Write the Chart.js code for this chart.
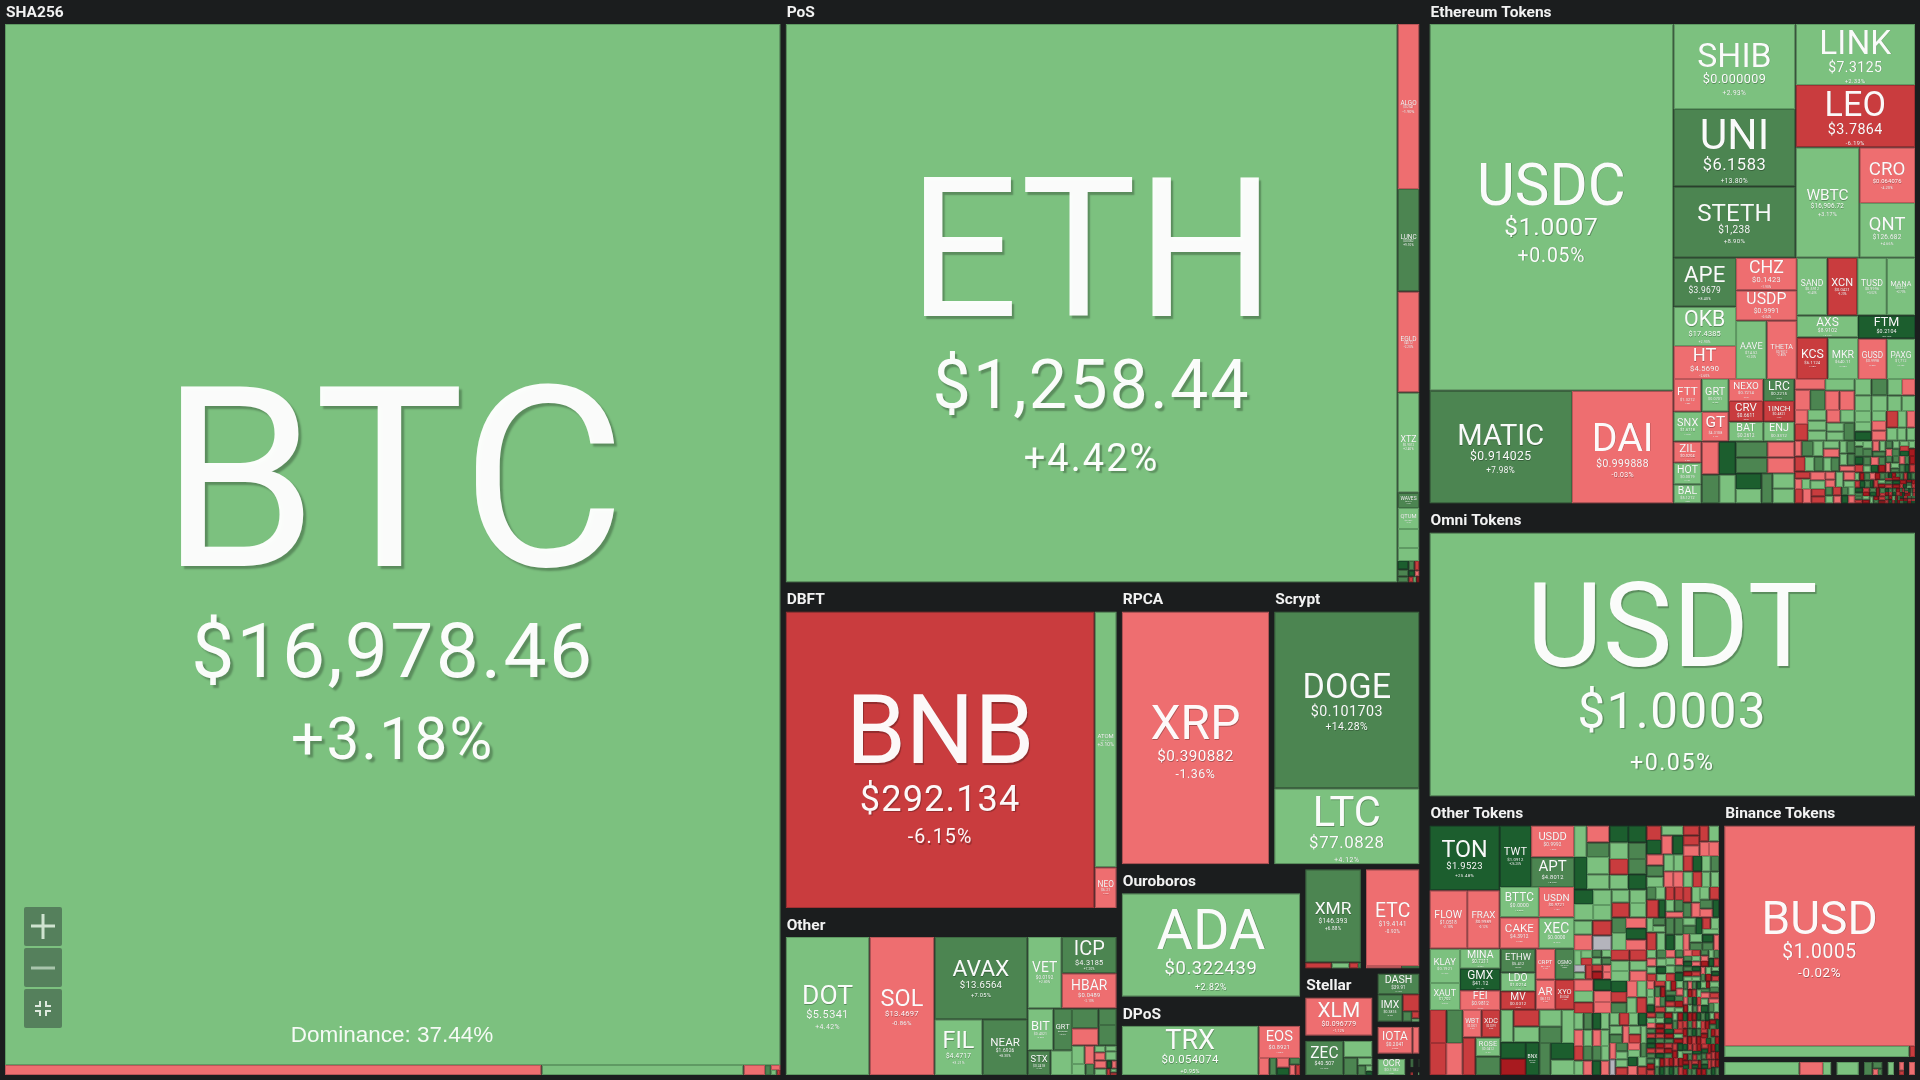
<!DOCTYPE html>
<html>
<head>
<meta charset="utf-8">
<title>Crypto market map</title>
<script src="https://cdn.jsdelivr.net/npm/chart.js@4/dist/chart.umd.min.js"></script>
<style>
  html, body { margin: 0; padding: 0; background: #1b1d1e; overflow: hidden; }
  #wrap { position: absolute; left: 0; top: 0; width: 1920px; height: 1080px; }
  .zb { position: absolute; left: 24px; width: 38px; height: 39px; background: #55805c; border-radius: 2px; }
  .zb svg { display: block; }
</style>
</head>
<body>
<div id="wrap"><canvas id="Chart"></canvas>
  <div class="zb" style="top:907px"><svg width="38" height="39"><path d="M19 7V32M7 19H31" stroke="#cfe3d0" stroke-width="3"/></svg></div>
  <div class="zb" style="top:948px"><svg width="38" height="39"><path d="M7 20H31" stroke="#a9c5ac" stroke-width="3"/></svg></div>
  <div class="zb" style="top:989px"><svg width="38" height="39"><path d="M16 12V17H11M22 12V17H27M11 22H16V27M27 22H22V27" fill="none" stroke="#dfeadf" stroke-width="2"/></svg></div>
</div>
<script>
// values are market caps, changes are 24h percent
const sha256Names = ['BTC'];
const sha256Prices = ['$16,978.46'];
const sha256Values = [834.4, 5.5, 2.07, 0.22, 0.06, 0.05, 0.03, 0.02];
const sha256Changes = [3.18, -1.4, 2.2, -1.7, 8, -2, 3, -8];

const posNames = ['ETH', 'ALGO', 'LUNC', 'EGLD', 'XTZ', 'WAVES', 'QTUM'];
const posPrices = ['$1,258.44', '$0.2541', '$0.0002', '$40.12', '$0.9012', '$2.611', '$2.284'];
const posValues = [362, 3.83, 2.38, 2.34, 2.33, 0.35, 0.49, 0.44, 0.3, 0.1, 0.08, 0.07, 0.06, 0.05, 0.04, 0.03, 0.03, 0.02, 0.02];
const posChanges = [4.42, -1.9, 9.1, -2.2, 2.4, 7.6, 2.1, 1.8, 2, 25, 8, 8, 8, -8, 25, -2, -8, 2, -25];

const dbftNames = ['BNB', 'ATOM', 'NEO'];
const dbftPrices = ['$292.134', '$14.41', '$6.21'];
const dbftValues = [102.0, 6.3, 1.0];
const dbftChanges = [-6.15, 3.1, -2.4];

const otherNames = ['DOT', 'SOL', 'AVAX', 'FIL', 'NEAR', 'VET', 'ICP', 'HBAR', 'BIT', 'GRT', 'STX'];
const otherPrices = ['$5.5341', '$13.4697', '$13.6564', '$4.4717', '$1.6926', '$0.0192', '$4.3185', '$0.0489', '$0.4021', '$0.0702', '$0.2418'];
const otherValues = [14.2, 11.0, 9.4, 3.3, 3.08, 3.0, 2.45, 2.38, 1.32, 0.95, 0.7, 0.65, 0.64, 0.56, 0.37, 0.46, 0.29, 0.22, 0.18, 0.12, 0.09, 0.11, 0.08, 0.13, 0.12, 0.1, 0.05, 0.05, 0.03, 0.03, 0.02];
const otherChanges = [4.42, -0.86, 7.05, 3.21, 8.3, 2.8, 7.2, -2.1, 2.6, 8.1, 7.7, 2, 8, -2, 8, 8, 2, -2, 2, 8, 2, -2, 2, 2, -2, 2, 25, -2, -8, 2, -8];

const rpcaNames = ['XRP'];
const rpcaPrices = ['$0.390882'];
const rpcaValues = [42.9];
const rpcaChanges = [-1.36];

const scryptNames = ['DOGE', 'LTC'];
const scryptPrices = ['$0.101703', '$77.0828'];
const scryptValues = [29.6, 12.7];
const scryptChanges = [14.28, 4.12];

const ouroNames = ['ADA'];
const ouroPrices = ['$0.322439'];
const ouroValues = [24.3];
const ouroChanges = [2.82];

const dposNames = ['TRX', 'EOS'];
const dposPrices = ['$0.054074', '$0.8921'];
const dposValues = [11.0, 2.2, 0.3, 0.2, 0.2, 0.15, 0.12, 0.1, 0.08];
const dposChanges = [0.95, -1.8, -2, 8, -2, 25, 8, -2, -8];

const xmrNames = ['XMR'];
const xmrPrices = ['$146.393'];
const xmrValues = [5.95, 0.18, 0.12, 0.06, 0.02];
const xmrChanges = [6.88, -8, 2, -8, 8];

const etcNames = ['ETC'];
const etcPrices = ['$19.4141'];
const etcValues = [5.95, 0.1, 0.05];
const etcChanges = [-0.92, -2, 8];

const stellarNames = ['XLM'];
const stellarPrices = ['$0.096779'];
const stellarValues = [4.85];
const stellarChanges = [-1.12];

const zecNames = ['ZEC'];
const zecPrices = ['$40.507'];
const zecValues = [1.62, 0.6, 0.3, 0.14, 0.1, 0.05, 0.03];
const zecChanges = [6.4, 2, 8, 2, 8, 2, 25];

const dashNames = ['DASH', 'IMX'];
const dashPrices = ['$39.91', '$0.3815'];
const dashValues = [1.08, 0.85, 0.35, 0.12, 0.07, 0.03];
const dashChanges = [7.1, 8.2, -8, 8, -8, 2];

const iotaNames = ['IOTA'];
const iotaPrices = ['$0.2041'];
const iotaValues = [1.25, 0.25];
const iotaChanges = [-2.3, -2];

const ocrNames = ['OCR'];
const ocrPrices = ['$0.1182'];
const ocrValues = [0.7];
const ocrChanges = [2.6];

const ethNames = ['USDC', 'MATIC', 'DAI', 'SHIB', 'UNI', 'STETH', 'LINK', 'LEO', 'WBTC', 'CRO', 'QNT', 'APE', 'OKB', 'HT', 'CHZ', 'USDP', 'AAVE', 'THETA', 'SAND', 'XCN', 'TUSD', 'MANA', 'AXS', 'KCS', 'MKR', 'FTM', 'GUSD', 'PAXG', 'FTT', 'GRT', 'SNX', 'GT', 'NEXO', 'CRV', 'BAT', 'LRC', '1INCH', 'ENJ', 'ZIL', 'HOT', 'BAL'];
const ethPrices = ['$1.0007', '$0.914025', '$0.999888', '$0.000009', '$6.1583', '$1,238', '$7.3125', '$3.7864', '$16,906.72', '$0.064076', '$126.682', '$3.9679', '$17.4385', '$4.5690', '$0.1423', '$0.9991', '$74.52', '$0.9012', '$0.5912', '$0.0421', '$0.9996', '$0.5211', '$8.9102', '$6.1124', '$640.11', '$0.2104', '$0.9998', '$1,712', '$1.3212', '$0.0701', '$1.6118', '$4.3108', '$0.7214', '$0.6611', '$0.2612', '$0.2215', '$0.4821', '$0.3312', '$0.0204', '$0.0019', '$5.1212'];
const ethValues = [96.4, 17.3, 12.3, 11.2, 10.2, 9.4, 7.85, 8.0, 7.6, 3.35, 3.3, 3.3, 2.65, 2.24, 2.13, 1.99, 1.93, 1.9, 1.9, 1.85, 1.85, 1.75, 1.45, 1.38, 1.36, 1.41, 1.25, 1.23, 0.99, 0.96, 0.92, 0.86, 0.81, 0.78, 0.73, 0.74, 0.7, 0.67, 0.65, 0.65, 0.59, 0.61, 0.6, 0.55, 0.52, 0.54, 0.54, 0.47, 0.47, 0.43, 0.4, 0.36, 0.37, 0.35,
  0.35, 0.34, 0.33, 0.37, 0.3, 0.32, 0.2, 0.24, 0.21, 0.2, 0.2, 0.19, 0.2, 0.17, 0.17, 0.21,
  0.29, 0.28, 0.28, 0.27, 0.26, 0.23, 0.24, 0.22, 0.2, 0.17, 0.17, 0.16, 0.16, 0.16, 0.21, 0.16, 0.15, 0.15, 0.13, 0.12, 0.12,
  0.19, 0.17, 0.17, 0.15, 0.15, 0.14, 0.15, 0.12, 0.13, 0.1, 0.11, 0.1, 0.1, 0.1, 0.12, 0.08, 0.09,
  0.14, 0.14, 0.13, 0.13, 0.11, 0.11, 0.09, 0.08, 0.13, 0.11, 0.08, 0.07, 0.08, 0.07, 0.07, 0.06, 0.06, 0.06, 0.06, 0.05,
  0.09, 0.08, 0.08, 0.08, 0.07, 0.08, 0.07, 0.07, 0.07, 0.06, 0.07, 0.06, 0.06, 0.06, 0.06, 0.06, 0.05, 0.06, 0.05, 0.05, 0.05, 0.05, 0.05, 0.05, 0.05, 0.05, 0.05, 0.04, 0.05, 0.04,
  0.05, 0.05, 0.04, 0.05, 0.04, 0.04, 0.05, 0.04, 0.04, 0.04, 0.04, 0.04, 0.04, 0.03, 0.04, 0.03, 0.03, 0.04, 0.03, 0.03, 0.03, 0.03, 0.03, 0.03, 0.03, 0.03, 0.03, 0.03, 0.03, 0.02, 0.03, 0.02, 0.02, 0.03, 0.02, 0.02, 0.02, 0.02, 0.02, 0.02,
  0.03, 0.03, 0.03, 0.03, 0.03, 0.03, 0.03, 0.03, 0.03, 0.03, 0.015, 0.015, 0.015, 0.015, 0.015, 0.015, 0.015, 0.015, 0.015, 0.015, 0.015, 0.015, 0.015, 0.015, 0.015, 0.015, 0.015, 0.015, 0.015, 0.015, 0.01, 0.01, 0.01, 0.01, 0.01, 0.01, 0.01, 0.01, 0.01, 0.01, 0.01, 0.01, 0.01, 0.01, 0.01, 0.01, 0.01, 0.01, 0.01, 0.01, 0.01, 0.01, 0.01, 0.01, 0.01, 0.01, 0.01, 0.01, 0.01, 0.01];
const ethChanges = [0.05, 7.98, -0.03, 2.93, 13.8, 8.9, 2.33, -6.19, 3.17, -4.2, 4.66, 8.4, 2.9, -2.6, -1.9, -0.04, 3.2, -2.8, 3.4, -9.2, 0.02, 2.7, 3.1, -7.7, 3.9, 26.1, -0.02, 0.4, -1.8, 2.4, 2.6, -3.1, -3.4, -8.3, 2.2, 9.2, -7.4, 3.3, -2.5, 2.1, 2.8, -2, 25, 8, 2, 8, 8, -2, -2, 25, 2, 8, 2, 2,
  -2, -2, 8, 2, -2, -2, -2, -8, 2, 2, 2, -2, 2, 2, 2, 8,
  2, 2, 8, 2, 2, -2, 2, 2, 2, 2, 25, 2, -2, -2, -8, 2, -2, 2, 2, 2, -2,
  8, 2, -8, 2, 8, 2, -2, 2, 8, 2, 8, 2, 8, -2, -8, -2, 2,
  -2, 2, -8, -2, -8, -8, -2, -2, 2, -2, 2, 8, -8, 2, -2, 8, 2, 25, -2, 2,
  8, 2, 8, -2, 2, 8, 25, -8, 8, 2, -2, 8, 25, -25, 8, 2, -2, 8, 2, -8, 25, 2, -25, 8, 8, -2, 2, 8, -2, 8,
  -25, 8, 25, -8, 2, -25, 8, -8, 25, 8, -2, -25, 8, 25, -8, 2, -25, 25, 8, -8, -25, 8, -8, 2, -25, 8, 25, -25, 8, -8, 2, -25, 8, -8, -25, 8, 25, -8, -25, 8,
  -25, 8, -8, 25, -25, 8, -8, 25, 8, -25, -8, 25, -25, 8, 2, -25, -8, 25, 8, -25, -8, 8, -25, 25, -8, 8, -25, -8, 25, 2, -25, 8, -8, 25, -25, 8, -8, -25, 25, 8, -8, -25, 25, 8, -8, -25, 2, -8, 25, -25, 8, -8, -25, 25, 8, -8, -25, 8, -8, 25];

const omniNames = ['USDT'];
const omniPrices = ['$1.0003'];
const omniValues = [144.5];
const omniChanges = [0.05];

const tokNames = ['TON', 'FLOW', 'FRAX', 'TWT', 'USDD', 'APT', 'BTTC', 'CAKE', 'USDN', 'XEC', 'KLAY', 'XAUT', 'MINA', 'GMX', 'FEI', '', '', '', '', 'WBT', 'XDC', '', 'ROSE', '', 'ETHW', 'LDO', 'MV', 'CRPT', 'OSMO', 'AR', 'XYO', '', '', '', '', '', 'BNX'];
const tokPrices = ['$1.9523', '$1.0518', '$0.9989', '$1.0912', '$0.9992', '$4.8012', '$0.0000', '$4.3912', '$0.9721', '$0.0000', '$0.1921', '$1,702', '$0.7211', '$41.12', '$0.9812', '', '', '', '', '$0.0321', '$0.0291', '', '$0.0412', '', '$5.412', '$1.0214', '$0.0312', '$0.1102', '$0.9112', '$8.112', '$0.0041', '', '', '', '', '', '$0.9121'];
const tokValues = [5.2, 2.52, 2.18, 2.2, 1.56, 1.46, 1.36, 1.41, 1.22, 1.26, 1.2, 0.94, 0.92, 1.0, 0.91, 0.64, 0.61, 0.61, 0.61, 0.59, 0.59, 0.55, 0.54, 0.53, 0.95, 0.75, 0.74, 0.69, 0.67, 0.67, 0.65, 0.48, 0.5, 0.46, 0.48, 0.47, 0.5, 0.44, 0.42, 0.47, 0.42, 0.44, 0.41,
  0.46, 0.44, 0.38, 0.48, 0.44, 0.39, 0.36, 0.36, 0.36, 0.34, 0.34, 0.32, 0.32, 0.32, 0.31,
  0.36, 0.33, 0.33, 0.3, 0.32, 0.33, 0.32, 0.27, 0.3, 0.26, 0.28, 0.25, 0.28, 0.25, 0.26, 0.25, 0.25, 0.24, 0.25, 0.24, 0.23,
  0.22, 0.22, 0.2, 0.2, 0.18, 0.17, 0.18, 0.19, 0.18, 0.2, 0.17, 0.19, 0.16, 0.17, 0.17, 0.16, 0.17, 0.16, 0.16, 0.15, 0.15, 0.15, 0.14, 0.14, 0.25, 0.14, 0.13, 0.13, 0.12, 0.12, 0.12, 0.11, 0.11, 0.1,
  0.2, 0.18, 0.17, 0.17, 0.16, 0.15, 0.15, 0.15, 0.14, 0.15, 0.14, 0.14, 0.13, 0.13, 0.13, 0.12, 0.12, 0.12, 0.12, 0.12, 0.11, 0.11, 0.11, 0.11, 0.1, 0.1, 0.1, 0.12, 0.1, 0.09, 0.09, 0.09, 0.11, 0.08, 0.08, 0.08, 0.08, 0.08, 0.09, 0.07, 0.07,
  0.26, 0.25, 0.24, 0.23, 0.23, 0.22, 0.22, 0.22, 0.21, 0.21, 0.2, 0.2, 0.2, 0.19, 0.19, 0.19, 0.18, 0.18, 0.18, 0.18, 0.17, 0.17, 0.17, 0.16, 0.16, 0.16, 0.16, 0.15, 0.15, 0.15, 0.15, 0.15, 0.14, 0.14, 0.14, 0.14, 0.14, 0.13, 0.13, 0.13, 0.13, 0.12, 0.12, 0.12, 0.12, 0.12, 0.11, 0.11, 0.11, 0.11, 0.11, 0.1, 0.1, 0.1, 0.1, 0.1, 0.1, 0.09, 0.09, 0.09, 0.09, 0.09, 0.08, 0.08, 0.08, 0.08, 0.08, 0.08, 0.07, 0.07,
  0.08, 0.08, 0.07, 0.08, 0.07, 0.07, 0.07, 0.07, 0.06, 0.07, 0.07, 0.06, 0.06, 0.07, 0.06, 0.06, 0.06, 0.06, 0.06, 0.06, 0.06, 0.06, 0.05, 0.06, 0.05, 0.06, 0.05, 0.05, 0.06, 0.05, 0.05, 0.05, 0.05, 0.05, 0.05, 0.05, 0.05, 0.05, 0.05, 0.05, 0.05, 0.05, 0.05, 0.05, 0.04, 0.05, 0.04, 0.05, 0.04, 0.04, 0.05, 0.04, 0.04, 0.04, 0.04, 0.04, 0.04, 0.04, 0.04, 0.04, 0.04, 0.04, 0.04, 0.04, 0.04, 0.04, 0.03, 0.04, 0.03, 0.04,
  0.06, 0.06, 0.06, 0.06, 0.06, 0.06, 0.06, 0.06, 0.055, 0.055, 0.055, 0.055, 0.055, 0.055,
  0.05, 0.05, 0.05, 0.05, 0.05, 0.05, 0.05, 0.05, 0.05, 0.05, 0.05, 0.05, 0.05, 0.05, 0.05, 0.05, 0.05, 0.05, 0.05, 0.05, 0.05, 0.05, 0.05, 0.05, 0.05, 0.05, 0.05, 0.05, 0.05, 0.05, 0.045, 0.045, 0.045, 0.045, 0.045, 0.045, 0.045, 0.045, 0.045, 0.045, 0.045, 0.045, 0.045, 0.045, 0.045, 0.045, 0.045, 0.045, 0.045, 0.045, 0.04, 0.04, 0.04, 0.04, 0.04, 0.04, 0.04, 0.04, 0.04, 0.04, 0.04, 0.04, 0.04, 0.04, 0.04, 0.04, 0.04, 0.04, 0.04, 0.04, 0.035, 0.035, 0.035, 0.035, 0.035, 0.035, 0.035, 0.035, 0.035, 0.035, 0.035, 0.035, 0.035, 0.035, 0.035, 0.035, 0.035, 0.035, 0.035, 0.035, 0.03, 0.03, 0.03, 0.03, 0.03, 0.03, 0.03, 0.03, 0.03, 0.03, 0.035, 0.035, 0.035, 0.035, 0.035, 0.035, 0.035, 0.035, 0.035, 0.035, 0.035, 0.035, 0.035, 0.035, 0.035, 0.035, 0.035, 0.035, 0.035, 0.035];
const tokChanges = [25.48, -2.1, -0.12, 26.2, -1.2, 8.4, 2.3, -2.9, -1.1, 2.7, 2.4, 0.3, 2.8, 27.1, -0.9, -8, 8, -8, -2, -3.1, -8.2, -8, 2.1, 8, 8.6, 2.9, -9.2, -3.4, 8.8, -3.1, -7.9, 2, -8, 2, 25, -24.1, 25, 2, 8, 2, 8, 25, 2,
  2, -2, 8, 25, 2, 2, 25, 2, 25, 8, -8, 2, 8, 25, 25,
  2, 2, 2, 2, -2, -8, 0, 2, -8, 2, 2, 8, 2, -2, 25, -2, -8, 25, 2, -2, 25,
  -2, 8, 2, 2, 2, -2, -2, -8, -8, -2, -8, 2, -2, -2, -8, 25, 2, -8, 2, 8, 2, 2, 8, 2, -8, 25, -8, -8, 2, 8, -2, 2, 8, 2,
  -8, 2, 8, 8, 25, 2, -8, 2, 8, -2, 2, -8, 8, -2, 25, 2, 8, 25, -2, 2, 8, -8, 2, 2, 25, 8, -2, 2, 2, -8, 0, 2, -8, 8, 2, 2, 8, -8, -25, -2, -2,
  -2, 2, -8, 25, -2, -2, -8, 2, 2, -8, 2, -2, 25, -8, 8, -2, 2, 2, -8, 2, 8, -2, 2, 25, 2, -2, 2, -8, 8, 2, -2, 8, 2, 25, -2, 2, -8, 2, 8, -2, 2, 25, 2, -8, 2, -2, 8, 2, 0, 2, -8, -2, 2, 8, 25, -2, 2, -8, 2, -2, 8, 2, 2, -8, 25, 2, -2, 2, 8, -2,
  2, -8, 8, 25, -2, 2, -8, 8, -25, 2, 25, -2, 8, -8, 2, -25, 8, 2, -2, 25, -8, 2, 8, -25, 2, -2, 8, 25, -8, 2, -2, 8, -25, 2, 25, -8, 2, 8, -2, -25, 2, 8, 25, -8, -2, 2, 8, -25, 2, 25, -8, 8, -2, 2, -25, 8, 25, -8, 2, -2, 8, -25, 2, 25, -8, 8, -2, 2, -25, 8,
  -2, 2, 8, -8, 2, 25, -2, 8, 2, -8, 2, -2, 8, 2,
  -25, 8, -8, 25, -25, -8, 8, -25, 25, -8, 2, -25, 8, -8, 25, -25, 8, -8, 2, -25, 25, -8, 8, -25, -8, 25, 8, -25, -8, 2, -25, 8, 25, -8, -25, 8, -8, 25, -25, 2, -8, -25, 8, 25, -8, -25, 8, -8, 25, -25, -8, 8, -25, 25, -8, 2, -25, 8, -8, -25, 25, 8, -8, -25, 8, 25, -8, -25, 2, -8, -25, 8, 25, -8, -25, 8, -8, 25, -25, -8, 8, -25, 25, -8, 2, -25, 8, -8, -25, 25, -8, 8, -25, 25, -8, -25, 8, -8, 25, -25, 8, -25, -8, 25, -25, 8, -8, -25, 25, -8, -25, 8, 25, -8, -25, 8, -8, -25, 25, 8];

const binanceNames = ['BUSD'];
const binancePrices = ['$1.0005'];
const binanceValues = [48.9, 2.35, 0.07];
const binanceChanges = [-0.02, 2.1, -8];

const bep1Values = [1.43, 0.45, 0.16];
const bep1Changes = [2.4, -1.7, 2.1];
const bep2Values = [0.5];
const bep2Changes = [2.2];
const bep3Values = [0.2, 0.12, 0.06, 0.05];
const bep3Changes = [8, 8, -2, 8];
const bep4Values = [0.21];
const bep4Changes = [2.3];
const bep5Values = [0.12, 0.06];
const bep5Changes = [-2, -8];
const bep6Values = [0.2];
const bep6Changes = [-2];

const tiny1Values = [0.11]; const tiny1Changes = [8];
const tiny2Values = [0.08]; const tiny2Changes = [8];
const tiny3Values = [0.06]; const tiny3Changes = [-8];
const tiny4Values = [0.05]; const tiny4Changes = [2];

const coinGroups = [
  { label: 'SHA256', names: sha256Names, prices: sha256Prices, values: sha256Values, changes: sha256Changes },
  { label: 'PoS', names: posNames, prices: posPrices, values: posValues, changes: posChanges },
  { label: 'DBFT', names: dbftNames, prices: dbftPrices, values: dbftValues, changes: dbftChanges },
  { label: 'Other', names: otherNames, prices: otherPrices, values: otherValues, changes: otherChanges },
  { label: 'RPCA', names: rpcaNames, prices: rpcaPrices, values: rpcaValues, changes: rpcaChanges },
  { label: 'Scrypt', names: scryptNames, prices: scryptPrices, values: scryptValues, changes: scryptChanges },
  { label: 'Ouroboros', names: ouroNames, prices: ouroPrices, values: ouroValues, changes: ouroChanges },
  { label: 'DPoS', names: dposNames, prices: dposPrices, values: dposValues, changes: dposChanges },
  { label: '', names: xmrNames, prices: xmrPrices, values: xmrValues, changes: xmrChanges },
  { label: '', names: etcNames, prices: etcPrices, values: etcValues, changes: etcChanges },
  { label: 'Stellar', names: stellarNames, prices: stellarPrices, values: stellarValues, changes: stellarChanges },
  { label: '', names: zecNames, prices: zecPrices, values: zecValues, changes: zecChanges },
  { label: '', names: dashNames, prices: dashPrices, values: dashValues, changes: dashChanges },
  { label: '', names: iotaNames, prices: iotaPrices, values: iotaValues, changes: iotaChanges },
  { label: '', names: ocrNames, prices: ocrPrices, values: ocrValues, changes: ocrChanges },
  { label: '', names: [], prices: [], values: tiny1Values, changes: tiny1Changes },
  { label: '', names: [], prices: [], values: tiny2Values, changes: tiny2Changes },
  { label: '', names: [], prices: [], values: tiny3Values, changes: tiny3Changes },
  { label: '', names: [], prices: [], values: tiny4Values, changes: tiny4Changes }
];

const tokenGroups = [
  { label: 'Ethereum Tokens', names: ethNames, prices: ethPrices, values: ethValues, changes: ethChanges },
  { label: 'Omni Tokens', names: omniNames, prices: omniPrices, values: omniValues, changes: omniChanges },
  { label: 'Other Tokens', names: tokNames, prices: tokPrices, values: tokValues, changes: tokChanges },
  { label: 'Binance Tokens', names: binanceNames, prices: binancePrices, values: binanceValues, changes: binanceChanges },
  { label: '', names: [], prices: [], values: bep1Values, changes: bep1Changes },
  { label: '', names: [], prices: [], values: bep2Values, changes: bep2Changes },
  { label: '', names: [], prices: [], values: bep3Values, changes: bep3Changes },
  { label: '', names: [], prices: [], values: bep4Values, changes: bep4Changes },
  { label: '', names: [], prices: [], values: bep5Values, changes: bep5Changes },
  { label: '', names: [], prices: [], values: bep6Values, changes: bep6Changes }
];

const fontFamily = 'Roboto, sans-serif';

function total(a) { return a.reduce((s, v) => s + v, 0); }

function cellColor(c) {
  if (c === 0) return ['#b4b4bc', '#8c8c94'];
  if (c >= 20) return ['#1c5e2e', '#17492a'];
  if (c >= 5) return ['#4c8551', '#3d6b42'];
  if (c > 0) return ['#7cc17f', '#5f9a63'];
  if (c > -5) return ['#ee6e70', '#bc5659'];
  if (c > -20) return ['#c93c3e', '#9f3033'];
  return ['#a81a1f', '#821519'];
}

// binary split, wide boxes cut left to right, tall boxes top to bottom
function split(sizes, box, place) {
  const sums = [0];
  sizes.forEach(v => sums.push(sums[sums.length - 1] + v));
  function part(i, j, value, x0, y0, x1, y1) {
    if (i >= j - 1) { place(i, x0, y0, x1, y1); return; }
    const offset = sums[i], target = value / 2 + offset;
    let k = i + 1, hi = j - 1;
    while (k < hi) {
      const mid = (k + hi) >>> 1;
      if (sums[mid] < target) k = mid + 1; else hi = mid;
    }
    if (target - sums[k - 1] < sums[k] - target && i + 1 < k) --k;
    const left = sums[k] - offset, right = value - left;
    if (x1 - x0 > y1 - y0) {
      const xk = (x0 * right + x1 * left) / value;
      part(i, k, left, x0, y0, xk, y1);
      part(k, j, right, xk, y0, x1, y1);
    } else {
      const yk = (y0 * right + y1 * left) / value;
      part(i, k, left, x0, y0, x1, yk);
      part(k, j, right, x0, yk, x1, y1);
    }
  }
  part(0, sizes.length, sums[sizes.length], box.x0, box.y0, box.x1, box.y1);
}

const cells = [];
const headers = [];
const gap = 2.5;
const headerHeight = 26.5;

function layoutFamily(groups, box) {
  const inner = { x0: box.x0 + gap, y0: box.y0 + gap, x1: box.x1 - gap, y1: box.y1 - gap };
  split(groups.map(g => total(g.values)), inner, (gi, x0, y0, x1, y1) => {
    const g = groups[gi];
    const top = y0 + (g.label ? headerHeight : gap);
    if (g.label) headers.push({ label: g.label, x: x0 + gap, y: top });
    split(g.values, { x0: x0 + gap, y0: top, x1: x1 - gap, y1: y1 - gap }, (i, a, b, c, d) => {
      cells.push({ x0: a, y0: b, x1: c, y1: d, name: g.names[i] || '', price: g.prices[i] || '', change: g.changes[i] });
    });
  });
}

const families = [coinGroups, tokenGroups];
split(families.map(f => total(f.map(g => total(g.values)))), { x0: 0, y0: -5, x1: 1920, y1: 1080 }, (i, x0, y0, x1, y1) => {
  layoutFamily(families[i], { x0, y0, x1, y1 });
});

class TreemapController extends Chart.DatasetController {
  update(mode) {
    const meta = this._cachedMeta;
    this.updateElements(meta.data, 0, meta.data.length, mode);
  }
  updateElements(rects, start, count, mode) {
    const meta = this._cachedMeta;
    const data = this.getDataset().data;
    for (let i = start; i < start + count; i++) {
      const d = data[i];
      const left = meta.xScale.getPixelForValue(d.x0);
      const right = meta.xScale.getPixelForValue(d.x1);
      const top = meta.yScale.getPixelForValue(d.y0);
      const bottom = meta.yScale.getPixelForValue(d.y1);
      this.updateElement(rects[i], i, {
        x: (left + right) / 2,
        y: top,
        base: bottom,
        width: right - left,
        height: bottom - top,
        horizontal: false,
        inflateAmount: 0,
        enableBorderRadius: false,
        borderSkipped: { top: false, left: false, bottom: false, right: false },
        options: this.resolveDataElementOptions(i, mode)
      }, mode);
    }
  }
}
TreemapController.id = 'treemap';
TreemapController.defaults = { dataElementType: 'bar', datasetElementType: false };
Chart.register(TreemapController);

function fontAt(size, weight) { return (weight || '400') + ' ' + size + 'px ' + fontFamily; }

const labelsPlugin = {
  id: 'cellLabels',
  afterDatasetsDraw(chart) {
    const ctx = chart.ctx;
    const meta = chart.getDatasetMeta(0);
    ctx.save();
    ctx.textAlign = 'center';
    ctx.textBaseline = 'alphabetic';
    meta.data.forEach((el, i) => {
      const d = cells[i];
      if (!d.name) return;
      const w = el.width, h = el.height;
      ctx.letterSpacing = '0px';
      ctx.font = fontAt(100);
      const nameW = ctx.measureText(d.name).width / 100;
      const fit = w < 40 ? 0.74 : w < 80 ? 0.66 : w > 400 ? 0.6 : 0.61;
      const s = Math.min(w * fit / nameW, h * 0.55);
      const priceW = ctx.measureText(d.price).width / 100 + d.price.length * 0.03;
      const p = Math.min(s * 0.42, w * 0.52 / priceW);
      const q = 0.065 * Math.sqrt(w * h);
      const gapA = s * 0.225, gapB = p * 0.52;
      const stack = s * 0.71 + gapA + p * 0.71 + gapB + q * 0.71;
      const cy = el.y + h / 2 + Math.max(0, s * 0.12 - 2);
      let y = cy - stack / 2 + s * 0.71;
      ctx.fillStyle = 'rgba(255,255,255,0.97)';
      ctx.shadowColor = 'rgba(0,0,0,0.28)';
      ctx.shadowOffsetX = s * 0.012;
      ctx.shadowOffsetY = s * 0.012;
      ctx.shadowBlur = s * 0.008;
      ctx.font = fontAt(s);
      ctx.fillText(d.name, el.x, y);
      y += gapA + p * 0.71;
      ctx.letterSpacing = (p * 0.03) + 'px';
      ctx.font = fontAt(p);
      ctx.fillText(d.price, el.x, y);
      y += gapB + q * 0.71;
      ctx.font = fontAt(q);
      const pct = (d.change > 0 ? '+' : '') + d.change.toFixed(2) + '%';
      ctx.fillText(pct, el.x, y);
    });
    ctx.letterSpacing = '0px';
    ctx.shadowColor = 'transparent';
    ctx.shadowOffsetX = 0;
    ctx.shadowOffsetY = 0;
    ctx.shadowBlur = 0;
    // group headers
    ctx.textAlign = 'left';
    ctx.fillStyle = '#f2f2f2';
    ctx.font = fontAt(15.5, '700');
    headers.forEach(g => {
      ctx.fillText(g.label, chart.scales.x.getPixelForValue(g.x) + 1, chart.scales.y.getPixelForValue(g.y) - 7);
    });
    // dominance note
    ctx.textAlign = 'center';
    ctx.fillStyle = 'rgba(255,255,255,0.92)';
    ctx.font = '400 22.5px "Liberation Sans Narrow", sans-serif';
    ctx.fillText('Dominance: 37.44%', 392, 1042);
    ctx.restore();
  }
};

const ctx = document.getElementById('Chart').getContext('2d');
new Chart(ctx, {
  type: 'treemap',
  data: {
    datasets: [{
      label: 'Market cap',
      parsing: false,
      data: cells,
      backgroundColor: cells.map(c => cellColor(c.change)[0]),
      borderColor: cells.map(c => cellColor(c.change)[1]),
      borderWidth: 1
    }]
  },
  options: {
    responsive: true,
    maintainAspectRatio: false,
    animation: false,
    events: [],
    layout: { padding: 0 },
    plugins: { legend: { display: false }, title: { display: false }, tooltip: { enabled: false } },
    scales: {
      x: { type: 'linear', display: false, min: 0, max: 1920 },
      y: { type: 'linear', display: false, reverse: true, min: 0, max: 1080 }
    }
  },
  plugins: [labelsPlugin]
});
</script>
</body>
</html>
